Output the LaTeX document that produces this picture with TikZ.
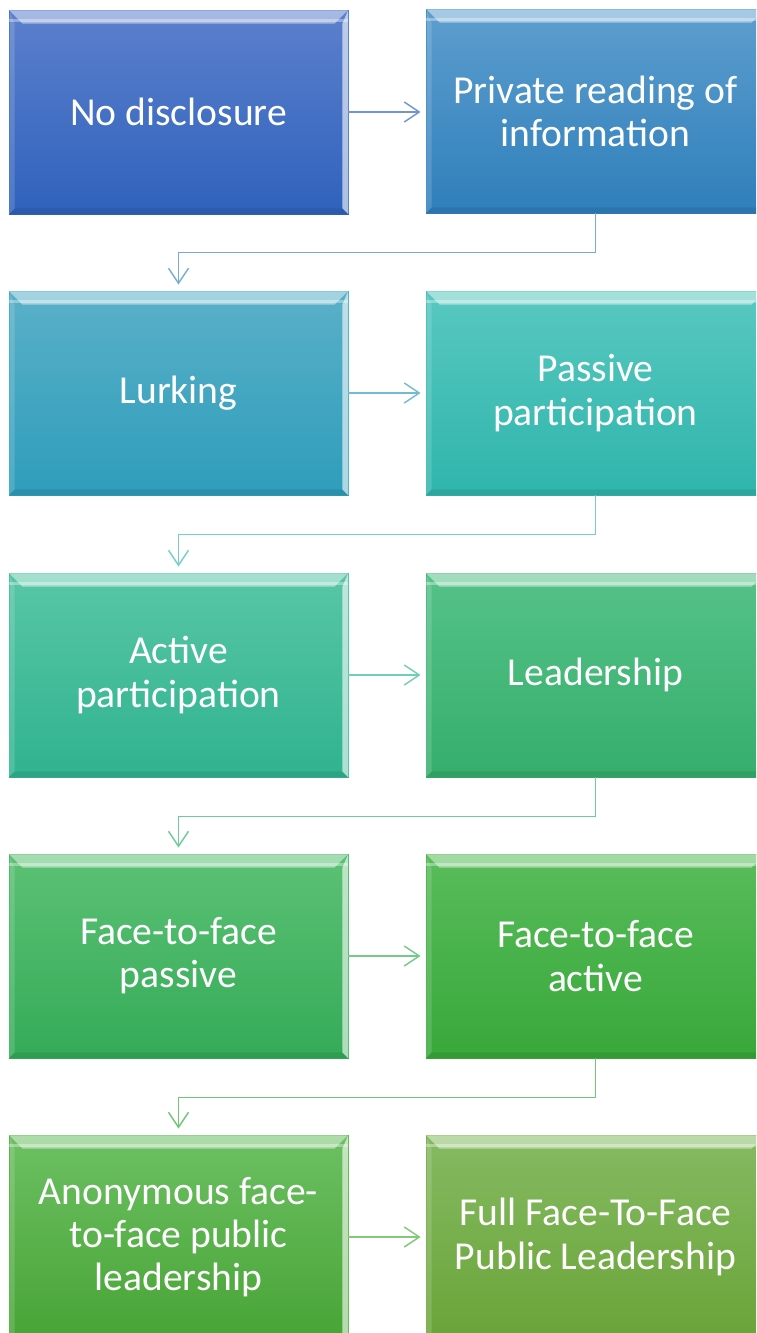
\documentclass[tikz,border=0pt]{standalone}
\usepackage{fontspec}
\setmainfont{Carlito}
\usetikzlibrary{arrows.meta,calc,shadings}
\definecolor{t1l}{RGB}{92,128,204}\definecolor{b1l}{RGB}{47,98,188}
\definecolor{t1r}{RGB}{93,158,206}\definecolor{b1r}{RGB}{47,127,187}
\definecolor{t2l}{RGB}{90,176,200}\definecolor{b2l}{RGB}{46,157,187}
\definecolor{t2r}{RGB}{88,200,192}\definecolor{b2r}{RGB}{47,181,172}
\definecolor{t3l}{RGB}{88,198,166}\definecolor{b3l}{RGB}{48,179,143}
\definecolor{t3r}{RGB}{85,194,136}\definecolor{b3r}{RGB}{53,174,108}
\definecolor{t4l}{RGB}{92,193,116}\definecolor{b4l}{RGB}{52,171,88}
\definecolor{t4r}{RGB}{88,188,90}\definecolor{b4r}{RGB}{56,168,58}
\definecolor{t5l}{RGB}{108,192,98}\definecolor{b5l}{RGB}{72,164,54}
\definecolor{t5r}{RGB}{133,186,98}\definecolor{b5r}{RGB}{106,164,56}
\tikzset{
  stagebox/.style 2 args={rectangle, minimum width=169.5pt, minimum height=102pt,
    top color=#1, bottom color=#2, draw=#2, line width=0.4pt,
    text=white, align=center, font=\fontsize{19.8}{21.6}\selectfont, inner sep=0pt},
  conn/.style={draw=#1, line width=0.75pt, -{Straight Barb[length=7.5pt,width=10pt,line width=0.75pt]}}
}
\newcommand{\bevelbox}[1]{%
  \fill[white,opacity=0.45] (#1.north west) -- (#1.north east) -- ($(#1.north east)+(-7pt,-7pt)$) -- ($(#1.north west)+(7pt,-7pt)$) -- cycle;
  \fill[white,opacity=0.35] ($(#1.north west)+(0,-4.5pt)$) rectangle ($(#1.north east)+(0,-6pt)$);
  \fill[white,opacity=0.15] (#1.north west) -- ($(#1.north west)+(3pt,-7pt)$) -- ($(#1.south west)+(3pt,3pt)$) -- (#1.south west) -- cycle;
  \fill[white,opacity=0.6] (#1.north east) -- ($(#1.north east)+(-3pt,-7pt)$) -- ($(#1.south east)+(-3pt,3pt)$) -- (#1.south east) -- cycle;
  \fill[black,opacity=0.08] (#1.south west) -- ($(#1.south west)+(3pt,3pt)$) -- ($(#1.south east)+(-3pt,3pt)$) -- (#1.south east) -- cycle;
}
\begin{document}
\begin{tikzpicture}[x=0.5pt,y=-0.5pt]
\useasboundingbox (0,0) rectangle (756,1333);
\clip (0,0) rectangle (756,1333);
\node[stagebox={t1l}{b1l}] (l1) at (178.5,112) {No disclosure};
\node[stagebox={t1r}{b1r}] (r1) at (595.5,111) {Private reading of\\information};
\node[stagebox={t2l}{b2l}] (l2) at (178.5,393) {Lurking};
\node[stagebox={t2r}{b2r}] (r2) at (595.5,393) {Passive\\participation};
\node[stagebox={t3l}{b3l}] (l3) at (178.5,675) {Active\\participation};
\node[stagebox={t3r}{b3r}] (r3) at (595.5,675) {Leadership};
\node[stagebox={t4l}{b4l}] (l4) at (178.5,956) {Face-to-face\\passive};
\node[stagebox={t4r}{b4r}] (r4) at (595.5,956) {Face-to-face\\active};
\node[stagebox={t5l}{b5l}] (l5) at (178.5,1237) {Anonymous face-\\to-face public\\leadership};
\node[stagebox={t5r}{b5r}] (r5) at (595.5,1237) {Full Face-To-Face\\Public Leadership};
\foreach \n in {l1,r1,l2,r2,l3,r3,l4,r4,l5,r5}{\bevelbox{\n}}
% horizontal arrows
\draw[conn=t1l!85!white, shorten >=2.5pt] (l1.east) -- (r1.west |- l1.east);
\draw[conn=t2l!85!white, shorten >=2.5pt] (l2.east) -- (r2.west);
\draw[conn=t3l!85!white, shorten >=2.5pt] (l3.east) -- (r3.west);
\draw[conn=t4l!85!white, shorten >=2.5pt] (l4.east) -- (r4.west);
\draw[conn=t5l!85!white, shorten >=2.5pt] (l5.east) -- (r5.west);
% elbow connectors
\draw[conn=t1r!85!white, shorten >=3pt] (r1.south) -- ++(0,39) -| (l2.north);
\draw[conn=t2r!85!white, shorten >=3pt] (r2.south) -- ++(0,39) -| (l3.north);
\draw[conn=t3r!85!white, shorten >=3pt] (r3.south) -- ++(0,39) -| (l4.north);
\draw[conn=t4r!85!white, shorten >=3pt] (r4.south) -- ++(0,39) -| (l5.north);
\end{tikzpicture}
\end{document}
